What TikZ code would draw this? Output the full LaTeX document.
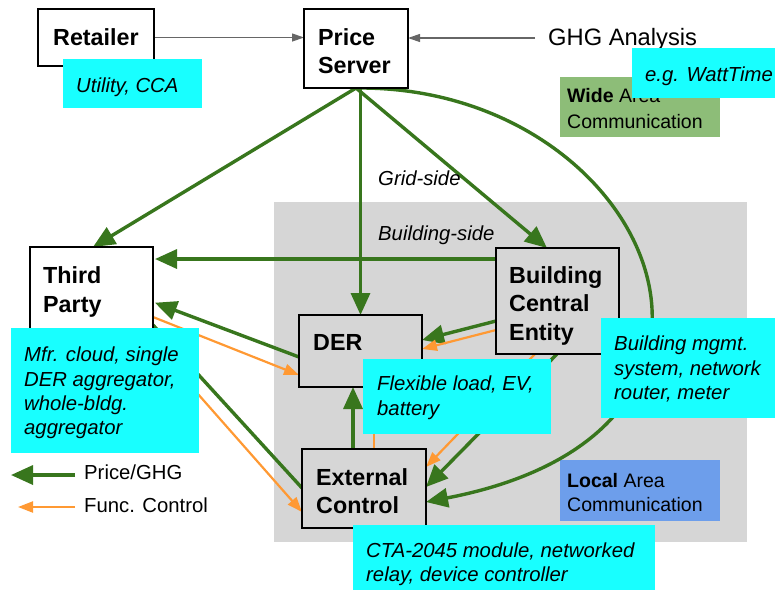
\documentclass[tikz,border=0pt]{standalone}
\usepackage{fontspec}
\setmainfont{Liberation Sans}
\usetikzlibrary{arrows.meta}
\definecolor{grn}{HTML}{38761D}
\definecolor{org}{HTML}{FF9933}
\definecolor{cyn}{HTML}{18FFFF}
\definecolor{widec}{HTML}{8DBD78}
\definecolor{locc}{HTML}{6D9EEB}
\definecolor{areac}{HTML}{D6D6D6}
\definecolor{arrg}{HTML}{666666}
\pgfdeclarelayer{back}
\pgfdeclarelayer{mid}
\pgfsetlayers{back,mid,main}
\tikzset{
  box/.style={draw=black, line width=2.6pt, inner sep=0pt, outer sep=0pt},
  wbox/.style={box, fill=white},
  gbox/.style={box, fill=areac},
  lbl/.style={inner sep=0pt, anchor=base west, font=\fontsize{23.3}{28}\selectfont\bfseries},
  itxt/.style={inner sep=0pt, anchor=base west, font=\fontsize{20.3}{25}\selectfont\itshape},
  ntxt/.style={inner sep=0pt, anchor=base west, font=\fontsize{20.3}{25}\selectfont},
  stxt/.style={inner sep=0pt, anchor=base west, font=\fontsize{19.5}{25}\selectfont},
  garrow/.style={draw=grn, line width=3.4pt, -{Triangle[length=22pt,width=19pt]}},
  gline/.style={draw=grn, line width=3.4pt},
  oarrow/.style={draw=org, line width=2.2pt, -{Triangle[length=15pt,width=11pt]}},
  harrow/.style={draw=arrg, line width=1.2pt, -{Triangle[length=12pt,width=8pt]}},
}
\begin{document}
\begin{tikzpicture}[x=1pt,y=-1pt]
\useasboundingbox (0,0) rectangle (775,590);
% background regions
\begin{pgfonlayer}{back}
\fill[areac] (274,202) rectangle (747,542);
\fill[widec] (560,77) rectangle (720,137);
\fill[locc] (560,460) rectangle (720,521);
\end{pgfonlayer}
% boxes
\path (96,37.5) node[wbox, minimum width=116pt, minimum height=57pt] (ret) {};
\path (356,48.5) node[wbox, minimum width=104pt, minimum height=79pt] (ps) {};
\path (91.5,296.5) node[wbox, minimum width=123pt, minimum height=99pt] (tp) {};
\path (360.5,351) node[gbox, minimum width=123pt, minimum height=72pt] (der) {};
\path (364,488.5) node[gbox, minimum width=124pt, minimum height=79pt] (ec) {};
\path (557.5,301) node[gbox, minimum width=123pt, minimum height=106pt] (bce) {};
% box labels
\node[lbl] (retT) at (53,45) {Retailer};
\node[lbl] (psT1) at (318,45) {Price};
\node[lbl] (psT2) at (318,73) {Server};
\node[lbl] (tpT1) at (43,283) {Third};
\node[lbl] (tpT2) at (43,312) {Party};
\node[lbl] (derT) at (313,350) {DER};
\node[lbl] (ecT1) at (316,485) {External};
\node[lbl] (ecT2) at (316,513) {Control};
\node[lbl] (bceT1) at (509,283) {Building};
\node[lbl] (bceT2) at (509,311.5) {Central};
\node[lbl] (bceT3) at (509,340) {Entity};
% free ends
\coordinate (ghgs) at (535,38);
\coordinate (lg1s) at (75,475);
\coordinate (lg1e) at (11,475);
\coordinate (lg2s) at (75,507);
\coordinate (lg2e) at (18,507);
% connectors
\begin{pgfonlayer}{mid}
\draw[harrow] (ret.east) -- (ps.west |- ret.east);
\draw[harrow] (ghgs) -- (ps.east |- ghgs);
\draw[garrow] (ps.south) -- (tp.north -| 93,0);
\draw[garrow] (ps.south -| der.north) -- (der.north);
\draw[garrow] (ps.south) -- (bce.north -| 547,0);
\draw[garrow] (ps.south) .. controls (650,85) and (800,430) .. (ec.east |- 0,502);
\draw[garrow, shorten >=2pt] (bce.west |- 0,259) -- (tp.east |- 0,259);
\draw[garrow, shorten >=2pt] (der.west |- 0,357) -- (tp.east |- 0,302);
\draw[oarrow] (tp.east |- 0,317) -- (der.west |- 0,375);
\draw[gline] (tp.east |- 0,325) -- (ec.west |- 0,488);
\draw[oarrow] (tp.east |- 0,343) -- (ec.west |- 0,512);
\draw[garrow] (bce.west |- 0,321) -- (der.east |- 0,340);
\draw[oarrow] (bce.west |- 0,330) -- (der.east |- 0,349);
\draw[garrow] (bce.south -| 557,0) -- (ec.east |- 0,487);
\draw[oarrow] (bce.south -| 535,0) -- (ec.east |- 0,467);
\draw[garrow] (ec.north -| 353,0) -- (der.south -| 353,0);
\draw[oarrow] (ec.north -| 374,0) -- (der.south -| 374,0);
\draw[garrow] (lg1s) -- (lg1e);
\draw[oarrow] (lg2s) -- (lg2e);
\end{pgfonlayer}
% free texts
\node[inner sep=0pt, anchor=base west, font=\fontsize{23.7}{28}\selectfont] (ghg) at (548,45) {GHG Analysis};
\node[itxt] (grid) at (378,185) {Grid-side};
\node[itxt] (bside) at (378,240) {Building-side};
\node[stxt] (wide1) at (567,102) {\textbf{Wide} Area};
\node[stxt] (wide2) at (567,128) {Communication};
\node[stxt] (loc1) at (567,487) {\textbf{Local} Area};
\node[stxt] (loc2) at (567,511) {Communication};
\node[ntxt] (lgt1) at (84,479) {Price/GHG};
\node[ntxt] (lgt2) at (84,512) {Func. Control};
% cyan notes
\fill[cyn] (63,59) rectangle (202,108);
\node[itxt] (utl) at (76,92) {Utility, CCA};
\fill[cyn] (632,48) rectangle (775,98);
\node[itxt] (watt) at (645,81) {e.g. WattTime};
\fill[cyn] (11,328) rectangle (199,453);
\node[itxt] (mfr1) at (24,361) {Mfr. cloud, single};
\node[itxt] (mfr2) at (24,386) {DER aggregator,};
\node[itxt] (mfr3) at (24,410) {whole-bldg.};
\node[itxt] (mfr4) at (24,434) {aggregator};
\fill[cyn] (363,359) rectangle (551,434);
\node[itxt] (flx1) at (377,390) {Flexible load, EV,};
\node[itxt] (flx2) at (377,415) {battery};
\fill[cyn] (601,318) rectangle (775,418);
\node[itxt] (bms1) at (614,350) {Building mgmt.};
\node[itxt] (bms2) at (614,375) {system, network};
\node[itxt] (bms3) at (614,399) {router, meter};
\fill[cyn] (353,525) rectangle (655,590);
\node[itxt] (cta1) at (366,557) {CTA-2045 module, networked};
\node[itxt] (cta2) at (366,581) {relay, device controller};
\end{tikzpicture}
\end{document}
